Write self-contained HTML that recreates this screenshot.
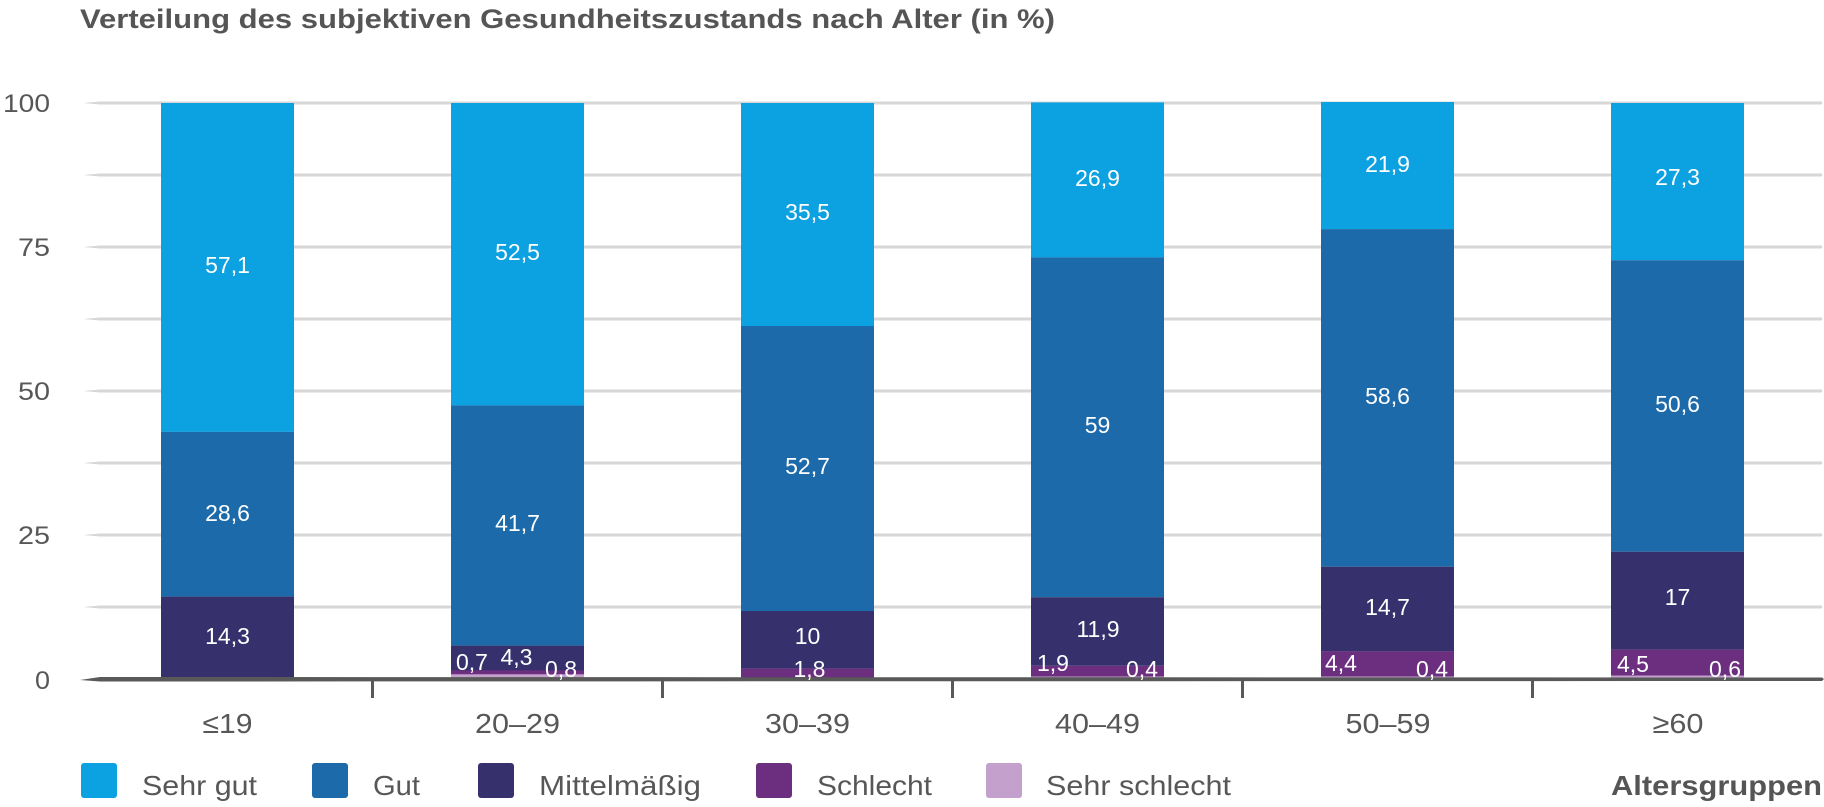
<!DOCTYPE html>
<html>
<head>
<meta charset="utf-8">
<style>
  html,body{margin:0;padding:0;background:#fff;}
  svg{display:block;}
  text{font-family:"Liberation Sans","DejaVu Sans",sans-serif;}
  .lbl{fill:#ffffff;font-size:23px;}
  .ax{fill:#575757;font-size:25px;}
  .cat{fill:#575757;font-size:28px;}
  .leg{fill:#575757;font-size:28px;}
</style>
</head>
<body>
<svg width="1824" height="807" viewBox="0 0 1824 807" xmlns="http://www.w3.org/2000/svg">
  <rect x="0" y="0" width="1824" height="807" fill="#ffffff"/>

  <!-- Title -->
  <text x="80" y="28" font-size="27" font-weight="bold" fill="#555555" textLength="975" lengthAdjust="spacingAndGlyphs">Verteilung des subjektiven Gesundheitszustands nach Alter (in %)</text>

  <!-- Gridlines -->
  <g fill="#d7d7d7">
    <polygon points="83,103 100,101.5 1822,101.5 1822,104.5 100,104.5"/>
    <polygon points="83,175 100,173.5 1822,173.5 1822,176.5 100,176.5"/>
    <polygon points="83,247 100,245.5 1822,245.5 1822,248.5 100,248.5"/>
    <polygon points="83,319 100,317.5 1822,317.5 1822,320.5 100,320.5"/>
    <polygon points="83,391 100,389.5 1822,389.5 1822,392.5 100,392.5"/>
    <polygon points="83,463 100,461.5 1822,461.5 1822,464.5 100,464.5"/>
    <polygon points="83,535 100,533.5 1822,533.5 1822,536.5 100,536.5"/>
    <polygon points="83,607 100,605.5 1822,605.5 1822,608.5 100,608.5"/>
  </g>

  <!-- Y axis labels -->
  <g class="ax" text-anchor="end">
    <text x="50" y="112" textLength="47" lengthAdjust="spacingAndGlyphs">100</text>
    <text x="50" y="256" textLength="32" lengthAdjust="spacingAndGlyphs">75</text>
    <text x="50" y="400" textLength="32" lengthAdjust="spacingAndGlyphs">50</text>
    <text x="50" y="544" textLength="32" lengthAdjust="spacingAndGlyphs">25</text>
    <text x="50" y="689" textLength="15" lengthAdjust="spacingAndGlyphs">0</text>
  </g>

  <!-- Bars -->
  <!-- Bar 1: ≤19 -->
  <g>
    <rect x="161" y="103" width="133" height="328.9" fill="#0ca1e0"/>
    <rect x="161" y="431.9" width="133" height="164.7" fill="#1c6aa9"/>
    <rect x="161" y="596.6" width="133" height="82.4" fill="#36316c"/>
  </g>
  <!-- Bar 2: 20–29 -->
  <g>
    <rect x="451" y="103" width="133" height="302.4" fill="#0ca1e0"/>
    <rect x="451" y="405.4" width="133" height="240.2" fill="#1c6aa9"/>
    <rect x="451" y="645.6" width="133" height="25" fill="#36316c"/>
    <rect x="451" y="670.4" width="133" height="4" fill="#6c2f80"/>
    <rect x="451" y="674.4" width="133" height="4.6" fill="#c4a0cd"/>
  </g>
  <!-- Bar 3: 30–39 -->
  <g>
    <rect x="741" y="103" width="133" height="223" fill="#0ca1e0"/>
    <rect x="741" y="326" width="133" height="285" fill="#1c6aa9"/>
    <rect x="741" y="611" width="133" height="57.6" fill="#36316c"/>
    <rect x="741" y="668.6" width="133" height="10.4" fill="#6c2f80"/>
  </g>
  <!-- Bar 4: 40–49 -->
  <g>
    <rect x="1031" y="102.4" width="133" height="155" fill="#0ca1e0"/>
    <rect x="1031" y="257.4" width="133" height="339.8" fill="#1c6aa9"/>
    <rect x="1031" y="597.2" width="133" height="68.6" fill="#36316c"/>
    <rect x="1031" y="665.8" width="133" height="10.9" fill="#6c2f80"/>
    <rect x="1031" y="676.7" width="133" height="2.3" fill="#c4a0cd"/>
  </g>
  <!-- Bar 5: 50–59 -->
  <g>
    <rect x="1321" y="102" width="133" height="127.1" fill="#0ca1e0"/>
    <rect x="1321" y="229.1" width="133" height="337.6" fill="#1c6aa9"/>
    <rect x="1321" y="566.7" width="133" height="84.7" fill="#36316c"/>
    <rect x="1321" y="651.4" width="133" height="25.3" fill="#6c2f80"/>
    <rect x="1321" y="676.7" width="133" height="2.3" fill="#c4a0cd"/>
  </g>
  <!-- Bar 6: ≥60 -->
  <g>
    <rect x="1611" y="103" width="133" height="157.2" fill="#0ca1e0"/>
    <rect x="1611" y="260.2" width="133" height="291.5" fill="#1c6aa9"/>
    <rect x="1611" y="551.7" width="133" height="97.9" fill="#36316c"/>
    <rect x="1611" y="649.6" width="133" height="25.9" fill="#6c2f80"/>
    <rect x="1611" y="675.5" width="133" height="3.5" fill="#c4a0cd"/>
  </g>

  <!-- Axis line -->
  <polygon points="80,680 100,677 1822,677.5 1824,679 1822,681 100,681.5" fill="#595959"/>

  <!-- Ticks -->
  <g fill="#595959">
    <rect x="371" y="679" width="3" height="19"/>
    <rect x="661" y="679" width="3" height="19"/>
    <rect x="951" y="679" width="3" height="19"/>
    <rect x="1241" y="679" width="3" height="19"/>
    <rect x="1531" y="679" width="3" height="19"/>
  </g>

  <!-- Bar value labels -->
  <g class="lbl" text-anchor="middle">
    <!-- bar 1 -->
    <text x="227.5" y="273">57,1</text>
    <text x="227.5" y="521">28,6</text>
    <text x="227.5" y="644">14,3</text>
    <!-- bar 2 -->
    <text x="517.5" y="260">52,5</text>
    <text x="517.5" y="531">41,7</text>
    <text x="516.5" y="665">4,3</text>
    <!-- bar 3 -->
    <text x="807.5" y="220">35,5</text>
    <text x="807.5" y="474">52,7</text>
    <text x="807.5" y="644">10</text>
    <text x="809.5" y="677">1,8</text>
    <!-- bar 4 -->
    <text x="1097.5" y="186">26,9</text>
    <text x="1097.5" y="433">59</text>
    <text x="1098" y="637">11,9</text>
    <!-- bar 5 -->
    <text x="1387.5" y="172">21,9</text>
    <text x="1387.5" y="404">58,6</text>
    <text x="1387.5" y="615">14,7</text>
    <!-- bar 6 -->
    <text x="1677.5" y="185">27,3</text>
    <text x="1677.5" y="412">50,6</text>
    <text x="1677.5" y="605">17</text>
  </g>
  <g class="lbl" text-anchor="start">
    <text x="456" y="670">0,7</text>
    <text x="1037" y="671">1,9</text>
    <text x="1325" y="671">4,4</text>
    <text x="1617" y="672">4,5</text>
  </g>
  <g class="lbl" text-anchor="end">
    <text x="577" y="677">0,8</text>
    <text x="1158" y="677">0,4</text>
    <text x="1448" y="677">0,4</text>
    <text x="1741" y="677">0,6</text>
  </g>

  <!-- Category labels -->
  <g class="cat" text-anchor="middle">
    <text x="227.5" y="733" textLength="50" lengthAdjust="spacingAndGlyphs">≤19</text>
    <text x="517.5" y="733" textLength="85" lengthAdjust="spacingAndGlyphs">20–29</text>
    <text x="807.5" y="733" textLength="85" lengthAdjust="spacingAndGlyphs">30–39</text>
    <text x="1097.5" y="733" textLength="85" lengthAdjust="spacingAndGlyphs">40–49</text>
    <text x="1388" y="733" textLength="85" lengthAdjust="spacingAndGlyphs">50–59</text>
    <text x="1678" y="733" textLength="51" lengthAdjust="spacingAndGlyphs">≥60</text>
  </g>

  <!-- Legend -->
  <g>
    <rect x="81" y="763" width="36" height="35" rx="3" fill="#0ca1e0"/>
    <text class="leg" x="142" y="795" textLength="115" lengthAdjust="spacingAndGlyphs">Sehr gut</text>
    <rect x="312" y="763" width="36" height="35" rx="3" fill="#1c6aa9"/>
    <text class="leg" x="373" y="795" textLength="47" lengthAdjust="spacingAndGlyphs">Gut</text>
    <rect x="478" y="763" width="36" height="35" rx="3" fill="#36316c"/>
    <text class="leg" x="539" y="795" textLength="162" lengthAdjust="spacingAndGlyphs">Mittelmäßig</text>
    <rect x="756" y="763" width="36" height="35" rx="3" fill="#6c2f80"/>
    <text class="leg" x="817" y="795" textLength="115" lengthAdjust="spacingAndGlyphs">Schlecht</text>
    <rect x="986" y="763" width="36" height="35" rx="3" fill="#c4a0cd"/>
    <text class="leg" x="1046" y="795" textLength="185" lengthAdjust="spacingAndGlyphs">Sehr schlecht</text>
  </g>

  <!-- Axis title -->
  <text x="1611" y="795" font-size="28" font-weight="bold" fill="#555555" textLength="211" lengthAdjust="spacingAndGlyphs">Altersgruppen</text>
</svg>
</body>
</html>
